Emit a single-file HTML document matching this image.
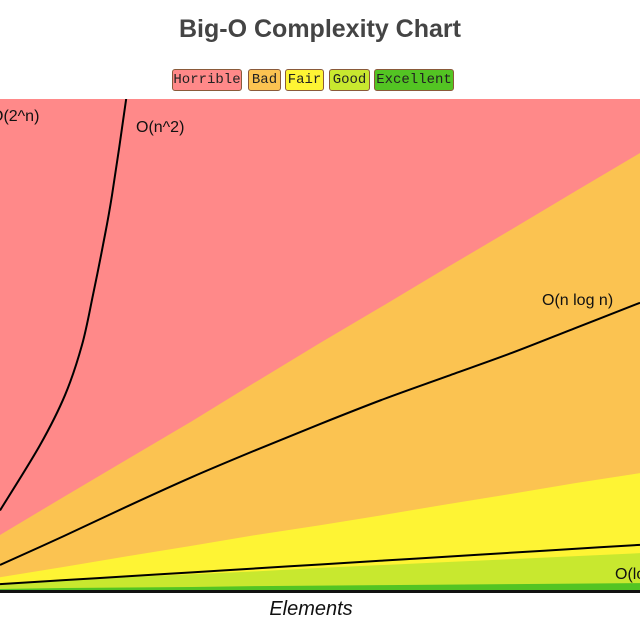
<!DOCTYPE html>
<html><head><meta charset="utf-8"><style>
body{margin:0;width:640px;height:640px;background:#fff;overflow:hidden;font-family:"Liberation Sans",sans-serif}
#title{position:absolute;z-index:2;left:0;width:640px;top:15px;text-align:center;font-weight:bold;font-size:25px;color:#444}
.leg{position:absolute;z-index:2;top:69px;height:22px;line-height:20px;font-family:"Liberation Mono",monospace;font-size:14px;color:#222;border:1px solid #8a5a3a;border-radius:3px;box-sizing:border-box;text-align:center}
#xlabel{position:absolute;z-index:2;top:598px;left:0;width:622px;text-align:center;font-style:italic;font-size:20px;color:#111}
svg{position:absolute;left:0;top:0;z-index:1}
</style></head><body>
<svg id="chart" width="640" height="640"></svg>
<div id="title">Big-O Complexity Chart</div>
<div class="leg" style="left:172px;width:70px;background:#ff8989">Horrible</div>
<div class="leg" style="left:248px;width:33px;background:#fbc351">Bad</div>
<div class="leg" style="left:285px;width:39px;background:#fef434">Fair</div>
<div class="leg" style="left:329px;width:41px;background:#c8e82f">Good</div>
<div class="leg" style="left:374px;width:80px;background:#53c423">Excellent</div>
<div id="xlabel">Elements</div>
<script>
const xs = [0,1,2,3,4,5,6,7,8,9,10];
const horribleBound = [11.2,19.0,26.7,34.4,42.4,50.3,58.0,65.8,73.5,81.3,89.0];
const badBound = [2.6,4.7,6.9,9.0,11.2,13.2,15.3,17.5,19.6,21.8,23.8];
const fairBound = [1.4,2.0,2.6,3.2,3.8,4.5,5.1,5.7,6.3,6.9,7.5];
const goodBound = [0.2,0.4,0.5,0.6,0.8,0.9,1.0,1.1,1.2,1.3,1.4];
const nlognVals = [5.1,11.0,17.1,23.0,28.5,33.8,38.9,43.6,48.3,53.4,58.5];
const nVals = [1.2,2.0,2.8,3.6,4.4,5.2,6.0,6.8,7.6,8.4,9.2];
const n2Xs = [0,0.625,1.016,1.281,1.453,1.61,1.75,1.969,2.06];
const n2Vals = [16.2,29.5,39.7,49.9,60.1,70.3,80.4,99.8,110];
const X0=0,X1=640,Y0=590,Y1=99;
function sx(v){return X0+(v/10)*(X1-X0);}
function sy(v){return Y0-(v/100)*(Y0-Y1);}
const svg=document.getElementById('chart');
const NS='http://www.w3.org/2000/svg';
function poly(top,color,name){
  let pts=xs.map((x,i)=>sx(x)+','+sy(top[i]));
  let b=[sx(10)+','+sy(0),sx(0)+','+sy(0)];
  const p=document.createElementNS(NS,'polygon');
  p.setAttribute('points',pts.concat(b).join(' '));
  p.setAttribute('fill',color);
  
  
  svg.appendChild(p);
}
const bg=document.createElementNS(NS,'rect');
bg.setAttribute('x',X0);bg.setAttribute('y',Y1);bg.setAttribute('width',X1-X0);bg.setAttribute('height',Y0-Y1);bg.setAttribute('fill','#ff8989');


svg.appendChild(bg);
poly(horribleBound,'#fbc351','region-bad');
poly(badBound,'#fef434','region-fair');
poly(fairBound,'#c8e82f','region-good');
poly(goodBound,'#53c423','region-excellent');
function line(xv,yv,name){
  const P=xv.map((x,i)=>[sx(x),sy(yv[i])]);
  let d='M'+P[0][0]+','+P[0][1];
  for(let i=0;i<P.length-1;i++){
    const p0=P[Math.max(0,i-1)],p1=P[i],p2=P[i+1],p3=P[Math.min(P.length-1,i+2)];
    const c1=[p1[0]+(p2[0]-p0[0])/6,p1[1]+(p2[1]-p0[1])/6];
    const c2=[p2[0]-(p3[0]-p1[0])/6,p2[1]-(p3[1]-p1[1])/6];
    d+=' C'+c1.join(',')+' '+c2.join(',')+' '+p2.join(',');
  }
  const p=document.createElementNS(NS,'path');
  p.setAttribute('d',d);
  p.setAttribute('fill','none');p.setAttribute('stroke','#000');p.setAttribute('stroke-width','2');
  
  
  svg.appendChild(p);
}
line(xs,nlognVals,'line-n-log-n');
line(xs,nVals,'line-n');
line(n2Xs,n2Vals,'line-n-squared');
const cover=document.createElementNS(NS,'rect');
cover.setAttribute('x',0);cover.setAttribute('y',0);cover.setAttribute('width',640);cover.setAttribute('height',Y1);cover.setAttribute('fill','#fff');
svg.appendChild(cover);
const axis=document.createElementNS(NS,'rect');
axis.setAttribute('x',X0);axis.setAttribute('y',Y0);axis.setAttribute('width',X1-X0);axis.setAttribute('height',3);axis.setAttribute('fill','#111');


svg.appendChild(axis);
function label(x,y,t,name){
  const e=document.createElementNS(NS,'text');
  e.setAttribute('x',x);e.setAttribute('y',y);e.setAttribute('font-size','16');e.setAttribute('font-family','Liberation Sans, sans-serif');e.setAttribute('fill','#111');
  e.textContent=t;
  
  
  svg.appendChild(e);
}
label(-9,121,'O(2^n)','label-2-n');
label(136,132,'O(n^2)','label-n-squared');
label(542,305,'O(n log n)','label-n-log-n');
label(615,579,'O(log n)','label-log-n');
</script>
</body></html>
